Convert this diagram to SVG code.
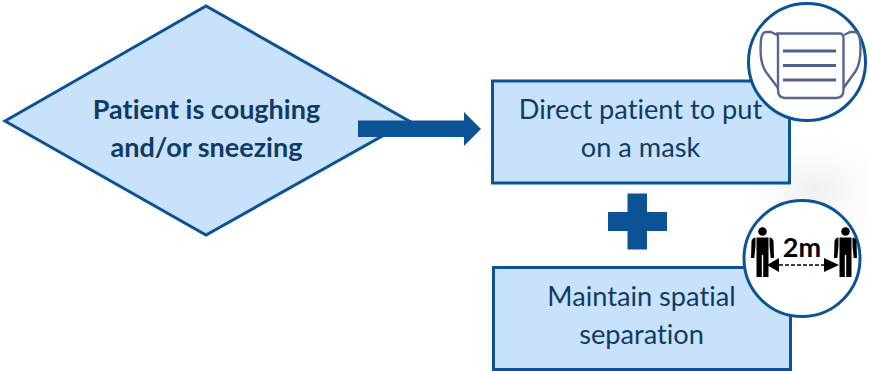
<svg xmlns="http://www.w3.org/2000/svg" width="869" height="372" viewBox="0 0 869 372">
<style>
.shape{fill:#c9e2fb;stroke:#0b5394;stroke-width:3}
.label{font-family:Lato,"Open Sans",sans-serif;font-size:27.200px;fill:#113b63;text-anchor:middle;font-variant-ligatures:none}
.bold{font-weight:700;font-size:27px}
.solid{fill:#0b5394}
.mk{fill:none;stroke:#56668f;stroke-width:2.4;stroke-linejoin:round}
.bar{stroke:#4f6090;stroke-width:3.2}
.p{fill:#000}
</style>
<defs>
<radialGradient id="glow"><stop offset="0" stop-color="#dcdcdc" stop-opacity=".45"/><stop offset="1" stop-color="#eeeeee" stop-opacity="0"/></radialGradient>
<g id="person">
<circle cx="0" cy="-19.500" r="4.300" class="p"/>
<path class="p" d="M-6 -13.500H6V-1L6 26H0.700V4H-0.700V26H-6V-1Z"/>
<path class="p" d="M7 -13.500Q10 -13.500 11 -10L11.500 7H8.200L7 -5ZM-7 -13.500Q-10 -13.500 -11 -10L-11.500 7H-8.200L-7 -5Z"/>
</g>
</defs>
<ellipse cx="815" cy="190" rx="75" ry="55" fill="url(#glow)"/>
<g id="node-diamond">
<polygon class="shape" points="5,121 206,6 409,121 206,235"/>
<text class="label bold" x="206.500" y="119">Patient is coughing</text>
<text class="label bold" x="206.500" y="157">and/or sneezing</text>
</g>
<g id="node-mask-box">
<rect class="shape" x="492.500" y="81" width="297" height="102"/>
<text class="label" x="640.500" y="119">Direct patient to put</text>
<text class="label" x="640.500" y="157">on a mask</text>
</g>
<g id="node-spacing-box">
<rect class="shape" x="493.500" y="267.500" width="297" height="102"/>
<text class="label" x="641.500" y="306">Maintain spatial</text>
<text class="label" x="641.500" y="344">separation</text>
</g>
<g id="connectors">
<polygon class="solid" points="358,120.500 464,120.500 464,112 481,129 464,146 464,137 358,137"/>
</g>
<g id="node-plus">
<polygon class="solid" points="627.500,193.500 647,193.500 647,212 667,212 667,231 647,231 647,249.500 627.500,249.500 627.500,231 608,231 608,212 627.500,212"/>
</g>
<g id="node-mask-icon">
<circle cx="807" cy="62" r="58.500" fill="#fff" stroke="#0b5394" stroke-width="3"/>
<path class="mk" d="M777 33.500H840Q843 33.500 843.500 38V90Q843.500 98 836 98H785Q778 98 778 90V38Q778 33.500 777 33.500Z"/>
<path class="mk" d="M777 35L771 32H766Q762 32 761 40Q759 62 766 72L778 88"/>
<path class="mk" d="M844 35L850 32H855Q859 32 860 40Q862 62 855 72L843.500 88"/>
<path class="bar" d="M783 51H836M783 65.500H836M783 80H836"/>
</g>
<g id="node-distance-icon">
<circle cx="802" cy="258.500" r="58" fill="#fff" stroke="#0b5394" stroke-width="3"/>
<use href="#person" x="762.500" y="251"/>
<use href="#person" x="845.500" y="251"/>
<path d="M779 265H824" stroke="#000" stroke-width="1.500" stroke-dasharray="4 2" fill="none"/>
<polygon class="p" points="767,265 779,258 779,272"/>
<polygon class="p" points="839,265 824,258 824,272"/>
<text x="802" y="257" font-family="Lato,'Open Sans',sans-serif" font-size="27" font-weight="700" fill="#000" text-anchor="middle">2m</text>
</g>
</svg>
